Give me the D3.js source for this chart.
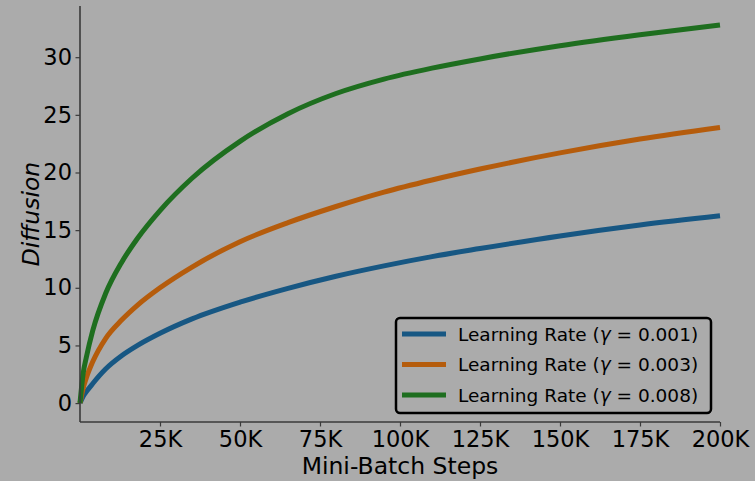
<!DOCTYPE html>
<html>
<head>
<meta charset="utf-8">
<script src="https://cdn.jsdelivr.net/npm/d3@7"></script>
<style>
  html, body { margin: 0; padding: 0; background: #ababab; }
  svg { display: block; font-family: "DejaVu Sans", sans-serif; }
</style>
</head>
<body>
<svg id="chart" width="755" height="481"></svg>
<script>
// Mini-batch steps (thousands) at which diffusion was sampled
const steps = [0, 1, 2, 4, 8, 13, 18, 25, 35, 50, 65, 80, 95, 110, 125, 150, 175, 200];

// Diffusion per learning rate
const diffLr001 = [0, 0.6, 1.0, 1.7, 2.95, 4.1, 5.0, 6.05, 7.3, 8.75, 9.95, 11.0, 11.9, 12.7, 13.4, 14.5, 15.45, 16.24];
const diffLr003 = [0, 1.3, 2.2, 3.6, 5.6, 7.2, 8.5, 10.0, 11.8, 14.0, 15.65, 17.05, 18.3, 19.35, 20.3, 21.7, 22.9, 23.9];
const diffLr008 = [0, 2.6, 4.0, 6.3, 9.5, 12.2, 14.3, 16.7, 19.5, 22.7, 25.1, 26.85, 28.1, 29.05, 29.85, 31.0, 31.95, 32.8];

const seriesNames = ["0.001", "0.003", "0.008"];
const seriesColors = ["#175783", "#b55c0c", "#1e6e1f"];

const xTicks = [25, 50, 75, 100, 125, 150, 175, 200];
const yTicks = [0, 5, 10, 15, 20, 25, 30];

const svg = d3.select("#chart");
const margin = { left: 80, right: 35, top: 6, bottom: 59 };
const W = 755, H = 481;

const x = d3.scaleLinear().domain([0, 200]).range([margin.left, W - margin.right]);
const y = d3.scaleLinear().domain([-1.64, 34.44]).range([H - margin.bottom, margin.top]);

const spineColor = "#3a3a3a";

// Diffusion curves
const line = d3.line()
  .x(d => x(d[0]))
  .y(d => y(d[1]))
  .curve(d3.curveMonotoneX);

const allSeries = [diffLr001, diffLr003, diffLr008];
allSeries.forEach((vals, i) => {
  svg.append("path")
    .datum(steps.map((s, j) => [s, vals[j]]))
    .attr("fill", "none")
    .attr("stroke", seriesColors[i])
    .attr("stroke-width", 5)
    .attr("stroke-linecap", "butt")
    .attr("d", line);
});

// Axes
const xAxis = d3.axisBottom(x).tickValues(xTicks).tickFormat(d => d + "K").tickSize(4.5).tickPadding(4.5);
const yAxis = d3.axisLeft(y).tickValues(yTicks).tickSize(4.5).tickPadding(3.5);

const gx = svg.append("g").attr("transform", `translate(0,${H - margin.bottom})`).call(xAxis);
const gy = svg.append("g").attr("transform", `translate(${margin.left},0)`).call(yAxis);

[gx, gy].forEach(g => {
  g.select(".domain").attr("stroke", spineColor).attr("stroke-width", 1.6);
  g.selectAll(".tick line").attr("stroke", spineColor).attr("stroke-width", 1.2);
  g.selectAll(".tick text")
    .attr("fill", "#000")
    .style("font-size", "22.5px")
    .style("font-family", "DejaVu Sans, sans-serif");
});
gx.select(".domain").attr("d", `M${x(0)},0H${x(200)}`);
gy.select(".domain").attr("d", `M0,${y(-1.64)}V${y(34.44)}`);

// Axis titles
svg.append("text")
  .attr("x", (x(0) + x(200)) / 2)
  .attr("y", 474)
  .attr("text-anchor", "middle")
  .style("font-size", "23.5px")
  .attr("fill", "#000")
  .text("Mini-Batch Steps");

svg.append("text")
  .attr("transform", `translate(39,${(y(-1.64) + y(34.44)) / 2}) rotate(-90)`)
  .attr("text-anchor", "middle")
  .style("font-size", "23.5px")
  .style("font-style", "italic")
  .attr("fill", "#000")
  .text("Diffusion");

// Legend
const legend = svg.append("g").attr("transform", "translate(396,318)");
legend.append("rect")
  .attr("x", 0).attr("y", 0)
  .attr("width", 315).attr("height", 95)
  .attr("rx", 4)
  .attr("fill", "#ababab")
  .attr("stroke", "#000")
  .attr("stroke-width", 2.5);

seriesNames.forEach((name, i) => {
  const cy = 16 + i * 30.5;
  legend.append("line")
    .attr("x1", 6).attr("x2", 50)
    .attr("y1", cy).attr("y2", cy)
    .attr("stroke", seriesColors[i])
    .attr("stroke-width", 5);
  const t = legend.append("text")
    .attr("x", 62).attr("y", cy + 6.5)
    .style("font-size", "18.5px")
    .attr("fill", "#000");
  t.append("tspan").text("Learning Rate (");
  t.append("tspan").style("font-style", "italic").text("γ");
  t.append("tspan").text(" = " + name + ")");
});
</script>
</body>
</html>
